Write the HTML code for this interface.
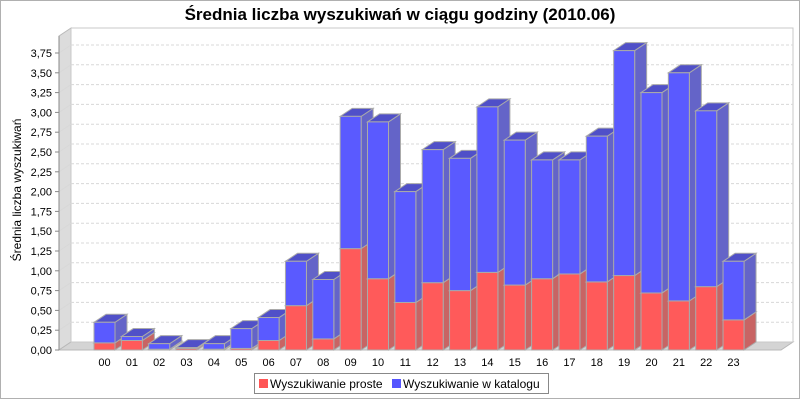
<!DOCTYPE html>
<html><head><meta charset="utf-8"><style>
body{margin:0;background:#fff;font-family:"Liberation Sans","DejaVu Sans",sans-serif}
</style></head><body>
<svg id="chart" width="800" height="400" xmlns="http://www.w3.org/2000/svg" font-family="Liberation Sans, DejaVu Sans, sans-serif">
<rect x="0.5" y="0.5" width="799" height="398" fill="#fff" stroke="#b0b0b0"/>
<text x="400" y="20" text-anchor="middle" font-size="17" font-weight="bold" fill="#000">Średnia liczba wyszukiwań w ciągu godziny (2010.06)</text>
<text transform="translate(21,190) rotate(-90)" text-anchor="middle" font-size="12" fill="#000">Średnia liczba wyszukiwań</text>
<g id="plot"></g>
<g>
<rect x="254.5" y="373.5" width="294" height="20" fill="#fff" stroke="#888"/>
<rect x="259" y="379" width="9" height="9" fill="#ff5555"/>
<text x="270" y="388" font-size="12">Wyszukiwanie proste</text>
<rect x="392" y="379" width="9" height="9" fill="#5555ff"/>
<text x="403" y="388" font-size="12">Wyszukiwanie w katalogu</text>
</g>
</svg>
<script>
const categories=["00","01","02","03","04","05","06","07","08","09","10","11","12","13","14","15","16","17","18","19","20","21","22","23"];
const proste=[0.09,0.12,0.01,0.02,0.01,0.02,0.12,0.56,0.14,1.28,0.90,0.60,0.85,0.75,0.98,0.82,0.90,0.96,0.86,0.94,0.72,0.62,0.80,0.38];
const katalog=[0.26,0.05,0.07,0.01,0.07,0.25,0.29,0.56,0.75,1.67,1.98,1.40,1.68,1.67,2.09,1.83,1.50,1.44,1.84,2.84,2.53,2.88,2.22,0.74];
const yTicks=[0,0.25,0.5,0.75,1,1.25,1.5,1.75,2,2.25,2.5,2.75,3,3.25,3.5,3.75];

const NS="http://www.w3.org/2000/svg";
const g=document.getElementById('plot');
const X0=59,Y0=350,DX=12,DY=8,XR=781,YT=36;
const y=v=>Y0-v*79.2;
const xb=i=>94+i*27.35;
const BW=21;
function el(t,a){const e=document.createElementNS(NS,t);for(const k in a)e.setAttribute(k,a[k]);g.appendChild(e);return e;}
function poly(pts,fill,stroke){return el('polygon',{points:pts.map(p=>p.join(',')).join(' '),fill:fill,stroke:stroke||'none','stroke-width':1});}

// walls
let w=poly([[X0,YT],[X0+DX,YT-DY],[X0+DX,Y0-DY],[X0,Y0]],'#dcdcdc','#b8b8b8');


let f=poly([[X0,Y0],[X0+DX,Y0-DY],[XR+DX,Y0-DY],[XR,Y0]],'#d4d4d4','#b8b8b8');


let bw=el('rect',{x:X0+DX,y:YT-DY,width:XR-X0,height:Y0-YT,fill:'#fff',stroke:'#c8c8c8'});



yTicks.forEach(v=>{
  const yy=y(v);
  if(v>0){
    const gl=el('line',{x1:X0+DX,y1:yy-DY,x2:XR+DX,y2:yy-DY,stroke:'#d8d8d8','stroke-dasharray':'3,2'});
    
    
    const dl=el('line',{x1:X0,y1:yy,x2:X0+DX,y2:yy-DY,stroke:'#d8d8d8'});
    
    
  }
  const tk=el('line',{x1:X0-4,y1:yy,x2:X0,y2:yy,stroke:'#888'});
  
  
  const t=el('text',{x:X0-7,y:yy+4,'text-anchor':'end','font-size':11,fill:'#000'});
  t.textContent=v.toFixed(2).replace('.',',');
  
  
});
const ax=el('line',{x1:X0,y1:YT,x2:X0,y2:Y0,stroke:'#888'});



function box(x,v0,v1,front,top,side,name){
  const a=y(v0),b=y(v1);
  const s=poly([[x+BW,a],[x+BW+DX,a-DY],[x+BW+DX,b-DY],[x+BW,b]],side,'#aaaaaa');
  
  
  const t=poly([[x,b],[x+DX,b-DY],[x+BW+DX,b-DY],[x+BW,b]],top,'#aaaaaa');
  
  
  const r=el('rect',{x:x,y:b,width:BW,height:Math.max(0,a-b),fill:front,stroke:'#aaaaaa'});
  
  
}
categories.forEach((c,i)=>{
  const x=xb(i);
  box(x,0,proste[i],'#ff5a5a','#c85050','#c86464','bar-proste-'+c);
  box(x,proste[i],proste[i]+katalog[i],'#5a5aff','#5050c8','#6464c8','bar-katalog-'+c);
  const t=el('text',{x:x+BW/2,y:366,'text-anchor':'middle','font-size':11,fill:'#000'});
  t.textContent=c;
  
  
});
</script>
</body></html>
